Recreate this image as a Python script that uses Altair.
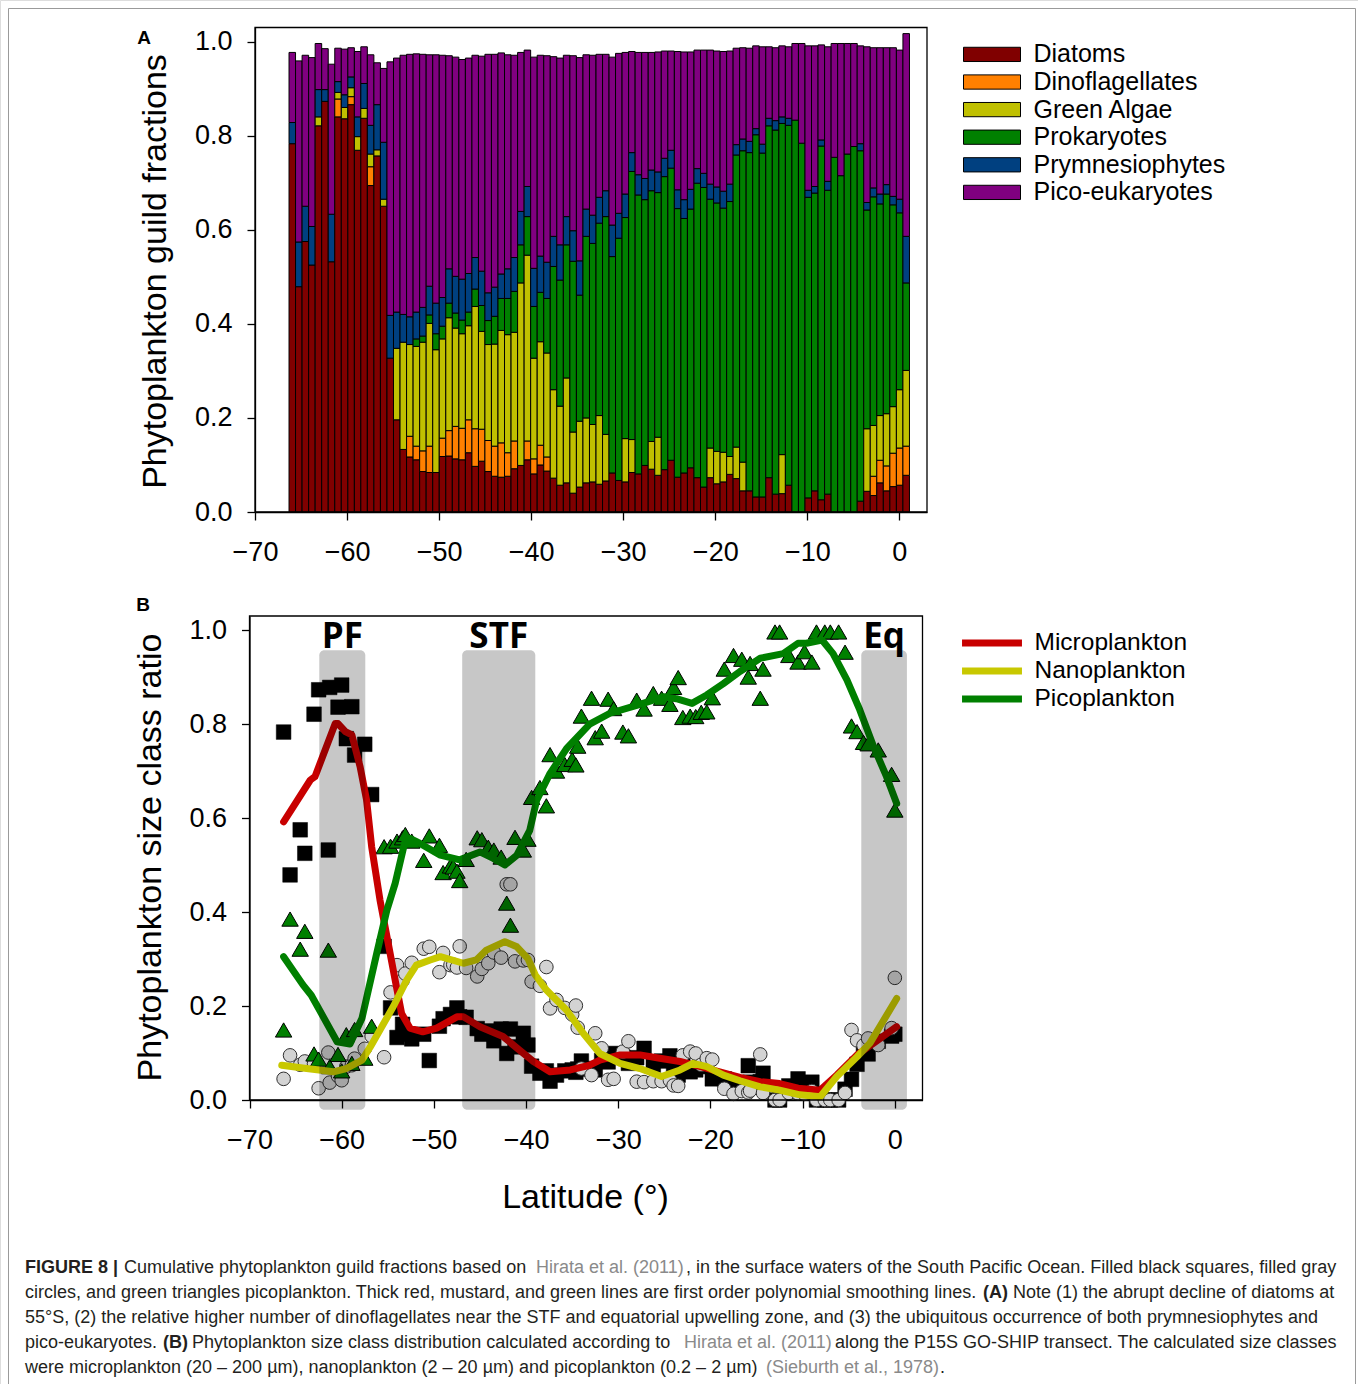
import altair as alt
import pandas as pd

# ---------------- Panel A : guild fractions per station (bar order along the transect) -------------
bar_lat = [-65.95, -65.24, -64.53, -63.82, -63.11, -62.40, -61.69, -60.98, -60.27, -59.56,
           -58.85, -58.15, -57.44, -56.73, -56.02, -55.31, -54.60, -53.89, -53.18, -52.47,
           -51.76, -51.05, -50.34, -49.63, -48.92, -48.21, -47.50, -46.79, -46.08, -45.37,
           -44.67, -43.96, -43.25, -42.54, -41.83, -41.12, -40.41, -39.70, -38.99, -38.28,
           -37.57, -36.86, -36.15, -35.44, -34.73, -34.02, -33.31, -32.60, -31.89, -31.19,
           -30.48, -29.77, -29.06, -28.35, -27.64, -26.93, -26.22, -25.51, -24.80, -24.09,
           -23.38, -22.67, -21.96, -21.25, -20.54, -19.83, -19.12, -18.41, -17.71, -17.00,
           -16.29, -15.58, -14.87, -14.16, -13.45, -12.74, -12.03, -11.32, -10.61, -9.90,
           -9.19, -8.48, -7.77, -7.06, -6.35, -5.64, -4.93, -4.23, -3.52, -2.81,
           -2.10, -1.39, -0.68, 0.03, 0.74]

diatoms = [.783, .479, .575, .525, .821, .873, .532, .840, .836, .866,
           .769, .837, .694, .757, .650, .327, .196, .133, .117, .111,
           .086, .084, .084, .118, .119, .113, .111, .126, .097, .108,
           .086, .076, .074, .076, .092, .099, .111, .081, .100, .087,
           .072, .057, .062, .040, .053, .062, .064, .059, .066, .083,
           .067, .064, .084, .081, .099, .091, .078, .090, .110, .074,
           .083, .094, .073, .053, .073, .060, .064, .080, .071, .045,
           .045, .032, .032, .073, .038, .039, .057, 0, 0, .030,
           .045, .026, .038, 0, 0, 0, 0, .023, .044, .035,
           .062, .045, .054, .057, .078]
dinoflagellates = [0, 0, 0, 0, 0, 0, 0, .038, 0, .017,
                   0, 0, .040, 0, 0, 0, 0, 0, .044, .029,
                   .044, .056, 0, .039, .054, .069, .067, .070, .080, .068,
                   .066, .064, .073, .050, .059, 0, .040, .032, .042, .030,
                   0, 0, 0, 0, 0, 0, 0, 0, 0, 0,
                   0, 0, 0, 0, 0, 0, 0, 0, 0, 0,
                   0, 0, 0, 0, 0, 0, 0, 0, 0, 0,
                   0, 0, 0, 0, 0, 0, 0, 0, 0, 0,
                   0, 0, 0, 0, 0, 0, 0, 0, 0, .041,
                   .048, .053, .071, .079, .062]
green_algae = [0, 0, 0, 0, .019, 0, 0, .014, .024, .019,
               .029, .021, .027, .013, .015, 0, .152, .228, .195, .212,
               .231, .261, .261, .211, .240, .209, .201, .200, .260, .208,
               .204, .217, .239, .251, .231, .388, .395, .214, .220, .221,
               .188, .168, .223, .130, .140, .138, .122, .146, .099, 0,
               0, .092, .070, 0, 0, .059, .081, 0, 0, 0,
               0, 0, 0, 0, .063, .069, .063, .038, .067, .061,
               0, 0, 0, 0, 0, .083, 0, 0, 0, 0,
               0, 0, 0, 0, 0, 0, 0, 0, .133, .108,
               .095, .111, .099, .124, .161]
prokaryotes = [0, 0, 0, 0, 0, 0, 0, 0, 0, 0,
               0, 0, 0, 0, 0, 0, 0, 0, 0, .016,
               .013, .018, .034, .027, .031, .032, .029, .029, .037, .055,
               .051, .059, .068, .077, .087, .081, .082, .110, .105, .116,
               .262, .268, .283, .363, .268, .386, .385, .409, .463, .460,
               .515, .470, .570, .593, .565, .533, .520, .623, .621, .571,
               .541, .550, .626, .637, .529, .528, .519, .542, .621, .662,
               .719, .770, .731, .748, .774, .704, .765, .833, .784, .639,
               .633, .752, .646, .754, .715, .761, .777, .745, .465, .486,
               .450, .467, .429, .376, .186]
prymnesiophytes = [.045, .095, .075, .082, .058, .025, .101, .023, .027, .023,
                   .042, .053, .061, .096, .121, .091, .077, .059, .059, .057,
                   .061, .061, .065, .061, .073, .078, .087, .082, .067, .073,
                   .059, .062, .052, .063, .072, .071, .064, .081, .077, .077,
                   .064, .075, .060, .065, .073, .058, .060, .055, .055, .067,
                   .053, .050, .040, .043, .045, .044, .044, .039, .038, .040,
                   .040, .042, .031, .030, .032, .034, .036, .037, .022, .025,
                   .024, .013, .019, .016, .020, .014, .015, 0, 0, .015,
                   .014, .013, .019, 0, 0, 0, 0, .015, .016, .019,
                   .021, .020, .018, .029, .099]
pico_eukaryotes = [.149, .385, .321, .359, .098, .087, .319, .071, .097, .062,
                   .139, .078, .150, .089, .157, .539, .540, .551, .558, .549,
                   .538, .492, .528, .515, .453, .466, .467, .458, .430, .457,
                   .507, .495, .470, .455, .430, .338, .290, .449, .427, .439,
                   .382, .397, .343, .372, .432, .328, .340, .304, .290, .357,
                   .340, .301, .215, .260, .268, .250, .255, .228, .211, .294,
                   .314, .292, .252, .262, .285, .289, .297, .283, .205, .194,
                   .198, .176, .207, .152, .155, .151, .152, .163, .212, .307,
                   .299, .202, .286, .242, .281, .235, .219, .208, .331, .298,
                   .311, .291, .316, .317, .431]

guilds = ["Diatoms", "Dinoflagellates", "Green Algae", "Prokaryotes",
          "Prymnesiophytes", "Pico-eukaryotes"]
guild_colors = ["#800000", "#ff8000", "#c0c000", "#008000", "#004080", "#800080"]
guild_series = [diatoms, dinoflagellates, green_algae, prokaryotes,
                prymnesiophytes, pico_eukaryotes]

# ---------------- Panel B : station latitudes and smoothing lines ----------------
station_lat = [-66.3, -65.6, -64.5, -64.0, -63.0, -62.5, -61.45, -61.3, -60.4, -60.0,
               -59.5, -58.9, -58.6, -57.5, -56.75, -55.4, -54.7, -54.0, -53.4, -53.1,
               -52.4, -51.1, -50.5, -49.4, -49.0, -48.2, -47.9, -47.5, -47.2, -46.5,
               -45.3, -44.8, -44.1, -43.5, -42.7, -42.1, -41.7, -41.2, -40.3, -39.8,
               -39.4, -38.5, -37.8, -37.4, -36.7, -35.8, -35.0, -34.6, -34.4, -34.0,
               -32.9, -32.5, -31.8, -31.1, -30.5, -29.5, -28.9, -28.0, -27.2, -26.2,
               -25.3, -24.4, -24.0, -23.5, -23.0, -22.2, -21.6, -21.0, -20.4, -19.8,
               -18.5, -17.5, -16.6, -15.9, -15.7, -14.6, -14.3, -13.0, -12.5, -11.5,
               -10.5, -9.8, -9.0, -8.5, -7.6, -7.0, -6.1, -5.4, -4.7, -4.1,
               -3.4, -2.9, -1.8, -0.35, 0.0]

micro_line_lat = [-66.3, -63.4, -62.9, -60.7, -60.4, -59.6, -58.9, -58.0, -57.3, -56.75,
                  -55.85, -54.95, -54.2, -53.5, -52.6, -51.2, -49.7, -47.5, -46.8, -45.0,
                  -42.5, -40.7, -39.2, -37.4, -35.2, -33.1, -32.0, -29.8, -27.65, -25.5,
                  -23.3, -21.1, -19.0, -16.8, -14.6, -12.5, -10.5, -8.1, -6.3, -4.1,
                  -2.3, 0.2]
micro_line_val = [.592, .681, .688, .801, .801, .784, .777, .709, .638, .539,
                  .426, .333, .255, .184, .153, .145, .153, .177, .177, .156,
                  .135, .106, .082, .060, .064, .074, .085, .096, .096, .089,
                  .082, .071, .060, .048, .039, .035, .025, .021, .053, .096,
                  .121, .156]
nano_line_lat = [-66.5, -63.8, -60.9, -59.5, -57.8, -56.9, -55.85, -54.4, -52.95, -51.9,
                 -50.4, -49.3, -46.8, -45.4, -44.3, -42.3, -41.0, -39.8, -39.0, -37.8,
                 -35.6, -33.8, -32.0, -29.8, -27.65, -25.3, -23.3, -21.9, -20.4, -18.6,
                 -16.8, -14.6, -12.5, -10.3, -8.1, -6.3, -4.1, -2.7, 0.2]
nano_line_val = [.074, .067, .060, .067, .085, .113, .149, .199, .255, .287,
                 .298, .305, .291, .298, .319, .337, .326, .301, .266, .234,
                 .191, .142, .099, .078, .067, .050, .064, .078, .071, .053,
                 .041, .028, .021, .011, .007, .050, .092, .121, .216]
pico_line_lat = [-66.3, -64.2, -63.3, -60.5, -59.1, -57.8, -56.2, -55.1, -54.2, -53.1,
                 -52.6, -51.5, -49.3, -47.2, -45.0, -43.55, -42.3, -41.0, -39.6, -38.85,
                 -37.4, -35.6, -33.1, -30.9, -28.0, -25.1, -23.7, -22.0, -20.4, -18.6,
                 -16.8, -14.6, -12.1, -10.5, -9.6, -7.9, -6.7, -5.2, -3.8, -2.3,
                 -0.9, 0.2]
pico_line_val = [.305, .245, .223, .124, .119, .174, .312, .404, .461, .553,
                 .557, .546, .521, .511, .528, .514, .500, .521, .574, .638,
                 .695, .748, .800, .823, .840, .858, .854, .844, .862, .886,
                 .912, .940, .950, .972, .972, .979, .950, .894, .830, .752,
                 .688, .631]

size_classes = ["Microplankton", "Nanoplankton", "Picoplankton"]
size_colors = ["#c80000", "#c8c800", "#008000"]

front_names = ["PF", "STF", "Eq"]
front_start = [-62.43, -46.93, -3.64]
front_end = [-57.44, -39.0, 1.31]

caption_segments = [
    ["FIGURE 8 |", "Cumulative phytoplankton guild fractions based on", "Hirata et al. (2011)",
     ", in the surface waters of the South Pacific Ocean. Filled black squares, filled gray"],
    ["circles, and green triangles picoplankton. Thick red, mustard, and green lines are first order polynomial smoothing lines.",
     "(A)", "Note (1) the abrupt decline of diatoms at"],
    ["55\u00b0S, (2) the relative higher number of dinoflagellates near the STF and equatorial upwelling zone, and (3) the ubiquitous occurrence of both prymnesiophytes and"],
    ["pico-eukaryotes.", "(B)", "Phytoplankton size class distribution calculated according to",
     "Hirata et al. (2011)", "along the P15S GO-SHIP transect. The calculated size classes"],
    ["were microplankton (20 \u2013 200 \u00b5m), nanoplankton (2 \u2013 20 \u00b5m) and picoplankton (0.2 \u2013 2 \u00b5m)",
     "(Sieburth et al., 1978)", "."],
]
# layout of caption pieces: (line, piece) -> left x, weight, colour
caption_layout = [
    [(25, "bold", "#231f20"), (124, "normal", "#231f20"), (536, "normal", "#8a8a8a"), (686, "normal", "#231f20")],
    [(25, "normal", "#231f20"), (983, "bold", "#231f20"), (1013, "normal", "#231f20")],
    [(25, "normal", "#231f20")],
    [(25, "normal", "#231f20"), (163, "bold", "#231f20"), (192, "normal", "#231f20"),
     (684, "normal", "#8a8a8a"), (835, "normal", "#231f20")],
    [(25, "normal", "#231f20"), (766, "normal", "#8a8a8a"), (940, "normal", "#231f20")],
]
caption_line_y = [1268, 1293, 1318, 1343, 1368]

# ---------------- build tables ----------------
rowsA = []
for i, lat in enumerate(bar_lat):
    for k, g in enumerate(guilds):
        rowsA.append({"lat": lat, "guild": g, "order": k, "value": guild_series[k][i]})
dfA = pd.DataFrame(rowsA)

dfB = pd.DataFrame({
    "lat": station_lat,
    "micro": [a + b for a, b in zip(diatoms, dinoflagellates)],
    "nano": [a + b for a, b in zip(green_algae, prymnesiophytes)],
    "pico": [a + b for a, b in zip(prokaryotes, pico_eukaryotes)],
})

line_rows = []
for name, lats, vals in zip(size_classes,
                            [micro_line_lat, nano_line_lat, pico_line_lat],
                            [micro_line_val, nano_line_val, pico_line_val]):
    for j, (a, v) in enumerate(zip(lats, vals)):
        line_rows.append({"series": name, "lat": a, "value": v, "idx": j})
dfL = pd.DataFrame(line_rows)

dfF = pd.DataFrame({"name": front_names, "start": front_start, "end": front_end})

cap_rows = []
for li, segs in enumerate(caption_segments):
    for si, s in enumerate(segs):
        x, w, c = caption_layout[li][si]
        cap_rows.append({"t": s, "x": x, "y": caption_line_y[li], "w": w, "c": c})
dfC = pd.DataFrame(cap_rows)

FONT = "Liberation Sans"
W, H = 1358, 1384

# ---------------- scales (pixel placement of the two panels) ----------------
xa = alt.Scale(domain=[-70, 3], range=[255, 927], nice=False, zero=False)
ya = alt.Scale(domain=[0, 1.03], range=[512, 27.5], nice=False, zero=False)
xb = alt.Scale(domain=[-70, 3], range=[249.5, 922.5], nice=False, zero=False)
yb = alt.Scale(domain=[0, 1.03], range=[1100, 616], nice=False, zero=False)

lat_ticks = [-70, -60, -50, -40, -30, -20, -10, 0]
frac_ticks = [0.0, 0.2, 0.4, 0.6, 0.8, 1.0]

common_axis = dict(grid=False, domainColor="black", domainWidth=1.3, tickColor="black",
                   tickWidth=1.3, tickSize=8, labelFont=FONT, labelFontSize=27,
                   labelColor="black", titleFont=FONT, titleFontSize=34,
                   titleColor="black", titleFontWeight="normal", labelFlush=False)

axA_x = alt.Axis(values=lat_ticks, format="d", orient="bottom", offset=512 - H,
                 title=None, labelPadding=19, **common_axis)
axA_y = alt.Axis(values=frac_ticks, format=".1f", orient="left", offset=-255,
                 title="Phytoplankton guild fractions", titleX=-100, titleY=271,
                 titleAngle=270, titleAlign="center", titleBaseline="middle",
                 labelPadding=15, **common_axis)
axB_x = alt.Axis(values=lat_ticks, format="d", orient="bottom", offset=1100 - H,
                 title="Latitude (\u00b0)", titleX=585, titleY=97,
                 titleAlign="center", titleBaseline="middle", labelPadding=19,
                 **common_axis)
axB_y = alt.Axis(values=frac_ticks, format=".1f", orient="left", offset=-249.5,
                 title="Phytoplankton size class ratio", titleX=-99.5, titleY=857,
                 titleAngle=270, titleAlign="center", titleBaseline="middle",
                 labelPadding=15, **common_axis)

legA = alt.Legend(orient="none", legendX=961, legendY=41.9, title=None, padding=0,
                  symbolType="M-3,-0.75H3V0.75H-3Z", symbolSize=361,
                  symbolStrokeColor="black", symbolStrokeWidth=1, symbolOpacity=1,
                  symbolOffset=18.5, labelOffset=29, labelFont=FONT, labelFontSize=25,
                  labelColor="black", rowPadding=1.6, labelLimit=400)
legB = alt.Legend(orient="none", legendX=960, legendY=630.5, title=None, padding=0,
                  symbolType="M-3.33,0H3.33", symbolSize=324, symbolStrokeWidth=7,
                  symbolOpacity=1, symbolOffset=19.5, labelOffset=30, labelFont=FONT,
                  labelFontSize=24.5, labelColor="black", rowPadding=-1.0, labelLimit=400)

# ---------------- Panel A ----------------
bars = (
    alt.Chart(dfA)
    .transform_stack(stack="value", groupby=["lat"], as_=["y0", "y1"],
                     sort=[alt.SortField("order", "ascending")])
    .transform_filter("datum.value > 0")
    .transform_calculate(x0="datum.lat - 0.354", x1="datum.lat + 0.354")
    .mark_bar(stroke="black", strokeWidth=1)
    .encode(
        x=alt.X("x0:Q", scale=xa, axis=axA_x),
        x2="x1:Q",
        y=alt.Y("y0:Q", scale=ya, axis=axA_y),
        y2="y1:Q",
        color=alt.Color("guild:N", scale=alt.Scale(domain=guilds, range=guild_colors),
                        legend=legA),
    )
)
frameA = (
    alt.Chart(pd.DataFrame({"a": [0]}))
    .mark_rect(fillOpacity=0, stroke="black", strokeWidth=1.3)
    .encode(x=alt.datum(-70), x2=alt.datum(3), y=alt.datum(0), y2=alt.datum(1.03))
)
panelA = alt.layer(bars, frameA)

# ---------------- Panel B ----------------
baseB = alt.Chart(dfB).encode(x=alt.X("lat:Q", scale=xb, axis=axB_x))
squares = baseB.mark_point(shape="square", filled=True, size=215, fill="black",
                           stroke="black", strokeWidth=0.5, opacity=1).encode(
    y=alt.Y("micro:Q", scale=yb, axis=axB_y))
circles = baseB.mark_point(shape="circle", filled=True, size=185, fill="#d3d3d3",
                           stroke="#303030", strokeWidth=1, opacity=1).encode(y="nano:Q")
triangles = baseB.mark_point(shape="triangle-up", filled=True, size=270, fill="#008000",
                             stroke="black", strokeWidth=1, opacity=1).encode(y="pico:Q")
lines = (
    alt.Chart(dfL)
    .mark_line(strokeWidth=7, strokeCap="round", strokeJoin="round")
    .encode(
        x="lat:Q", y="value:Q", order="idx:Q",
        color=alt.Color("series:N", scale=alt.Scale(domain=size_classes, range=size_colors),
                        legend=legB),
    )
)
bands = (
    alt.Chart(dfF)
    .transform_calculate(top="0.957", bottom="-0.021")
    .mark_rect(color="black", opacity=0.22, cornerRadius=5)
    .encode(x="start:Q", x2="end:Q", y="bottom:Q", y2="top:Q")
)
band_labels = (
    alt.Chart(dfF)
    .transform_calculate(mid="(datum.start + datum.end) / 2", top="0.957")
    .mark_text(font="Open Sans", fontWeight="bold", fontSize=35, baseline="alphabetic",
               dy=-2, color="black")
    .encode(x="mid:Q", y="top:Q", text="name:N")
)
frameB = (
    alt.Chart(pd.DataFrame({"a": [0]}))
    .mark_rect(fillOpacity=0, stroke="black", strokeWidth=1.3)
    .encode(x=alt.datum(-70), x2=alt.datum(3), y=alt.datum(0), y2=alt.datum(1.03))
)
panelB = alt.layer(squares, circles, triangles, lines, bands, band_labels, frameB)

# ---------------- decorations ----------------
cap_normal = (
    alt.Chart(dfC).transform_filter("datum.w == 'normal'")
    .mark_text(align="left", baseline="middle", font=FONT, fontSize=18)
    .encode(x=alt.X("x:Q", scale=None, axis=None), y=alt.Y("y:Q", scale=None, axis=None),
            text="t:N", color=alt.Color("c:N", scale=None, legend=None))
)
cap_bold = (
    alt.Chart(dfC).transform_filter("datum.w == 'bold'")
    .mark_text(align="left", baseline="middle", font=FONT, fontSize=18, fontWeight="bold")
    .encode(x=alt.X("x:Q", scale=None, axis=None), y=alt.Y("y:Q", scale=None, axis=None),
            text="t:N", color=alt.Color("c:N", scale=None, legend=None))
)
letters = (
    alt.Chart(pd.DataFrame({"t": ["A", "B"], "x": [144, 143], "y": [38, 605]}))
    .mark_text(font=FONT, fontWeight="bold", fontSize=19, baseline="middle", align="center",
               color="black")
    .encode(x=alt.X("x:Q", scale=None, axis=None), y=alt.Y("y:Q", scale=None, axis=None),
            text="t:N")
)
border = (
    alt.Chart(pd.DataFrame({"a": [0]}))
    .mark_rect(fillOpacity=0, stroke="#9a9a9a", strokeWidth=1)
    .encode(x=alt.value(8.5), x2=alt.value(1355.5), y=alt.value(8.5), y2=alt.value(1400))
)
deco = alt.layer(cap_normal, cap_bold, letters, border)

chart = (
    alt.layer(panelA, panelB, deco)
    .resolve_scale(x="independent", y="independent", color="independent")
    .properties(width=W, height=H, padding=0,
                autosize=alt.AutoSizeParams(type="none"))
    .configure_view(stroke=None)
    .configure(background="white")
)

chart.save("out.html", embed_options={"renderer": "svg", "actions": False})
